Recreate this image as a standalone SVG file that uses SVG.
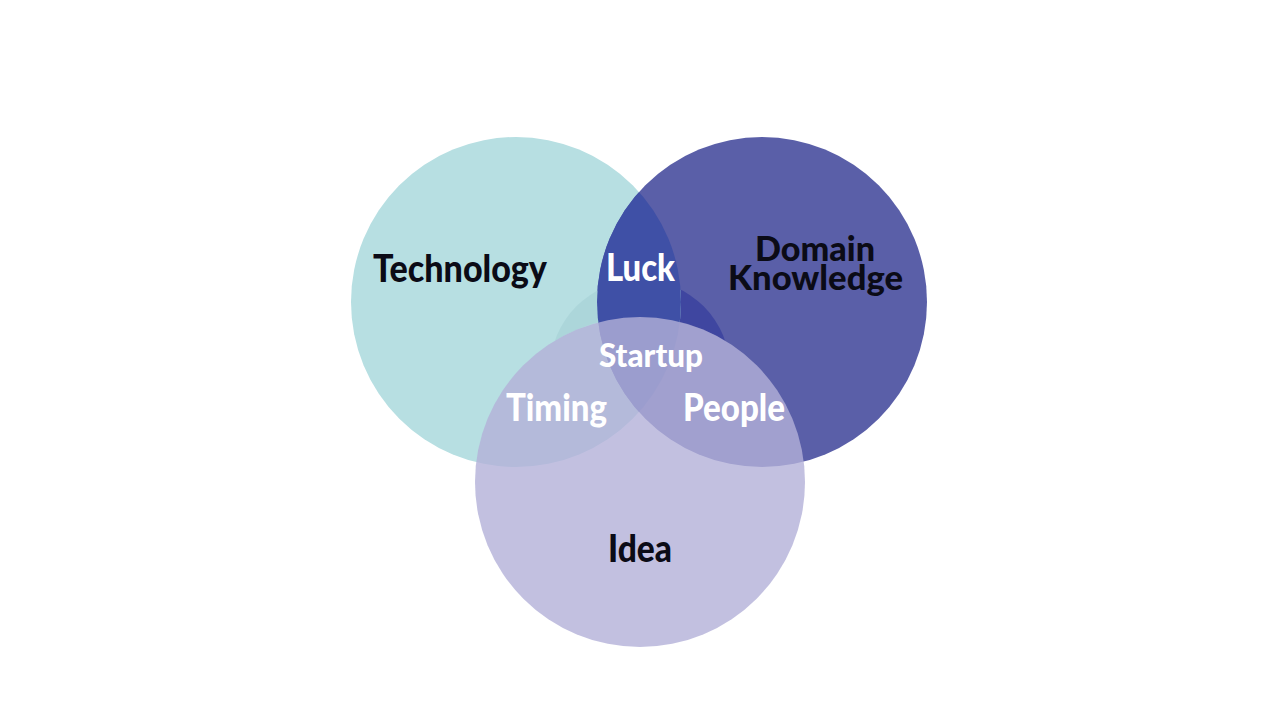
<svg xmlns="http://www.w3.org/2000/svg" width="1280" height="720" viewBox="0 0 1280 720">
  <style>
    .lbl { font-family: "Lato", "Liberation Sans", sans-serif; font-weight: 900; font-size: 37px; }
    .dark { fill: #0b0b16; }
    .light { fill: #ffffff; }
  </style>
  <defs>
    <clipPath id="clipTech"><circle cx="516" cy="302" r="165"/></clipPath>
    <clipPath id="clipDomain"><circle cx="762" cy="302" r="165"/></clipPath>
    <clipPath id="clipOutsideIdea">
      <path clip-rule="evenodd" d="M0,0 H1280 V720 H0 Z M475,482 A165,165 0 1,0 805,482 A165,165 0 1,0 475,482 Z"/>
    </clipPath>
  </defs>
  <rect width="1280" height="720" fill="#ffffff"/>
  <g id="technology">
    <circle cx="516" cy="302" r="165" fill="#b7dfe2"/>
  </g>
  <g id="domain-knowledge">
    <circle cx="762" cy="302" r="165" fill="#5a5fa8"/>
  </g>
  <g id="startup-core" clip-path="url(#clipOutsideIdea)">
    <circle cx="640" cy="370" r="90" fill="#3f46a0" clip-path="url(#clipDomain)"/>
    <circle cx="640" cy="370" r="90" fill="#acd6da" clip-path="url(#clipTech)"/>
  </g>
  <g id="luck">
    <circle cx="762" cy="302" r="165" fill="#3f50a6" clip-path="url(#clipTech)"/>
  </g>
  <g id="idea">
    <circle cx="640" cy="482" r="165" fill="#b3b0d8" fill-opacity="0.8"/>
  </g>
  <g id="connectors"></g>
  <g id="labels">
    <text class="lbl dark" x="373" y="282" textLength="174" lengthAdjust="spacingAndGlyphs">Technology</text>
    <text class="lbl light" x="606" y="281" textLength="69" lengthAdjust="spacingAndGlyphs">Luck</text>
    <text class="lbl dark" x="755" y="261" style="font-size:35px" textLength="120" lengthAdjust="spacingAndGlyphs">Domain</text>
    <text class="lbl dark" x="728" y="290" style="font-size:35px" textLength="175" lengthAdjust="spacingAndGlyphs">Knowledge</text>
    <text class="lbl light" x="599" y="367" style="font-size:32px" textLength="104" lengthAdjust="spacingAndGlyphs">Startup</text>
    <text class="lbl light" x="506" y="421" textLength="101" lengthAdjust="spacingAndGlyphs">Timing</text>
    <text class="lbl light" x="683" y="421" textLength="102" lengthAdjust="spacingAndGlyphs">People</text>
    <text class="lbl dark" x="608" y="562" textLength="64" lengthAdjust="spacingAndGlyphs">Idea</text>
  </g>
</svg>
